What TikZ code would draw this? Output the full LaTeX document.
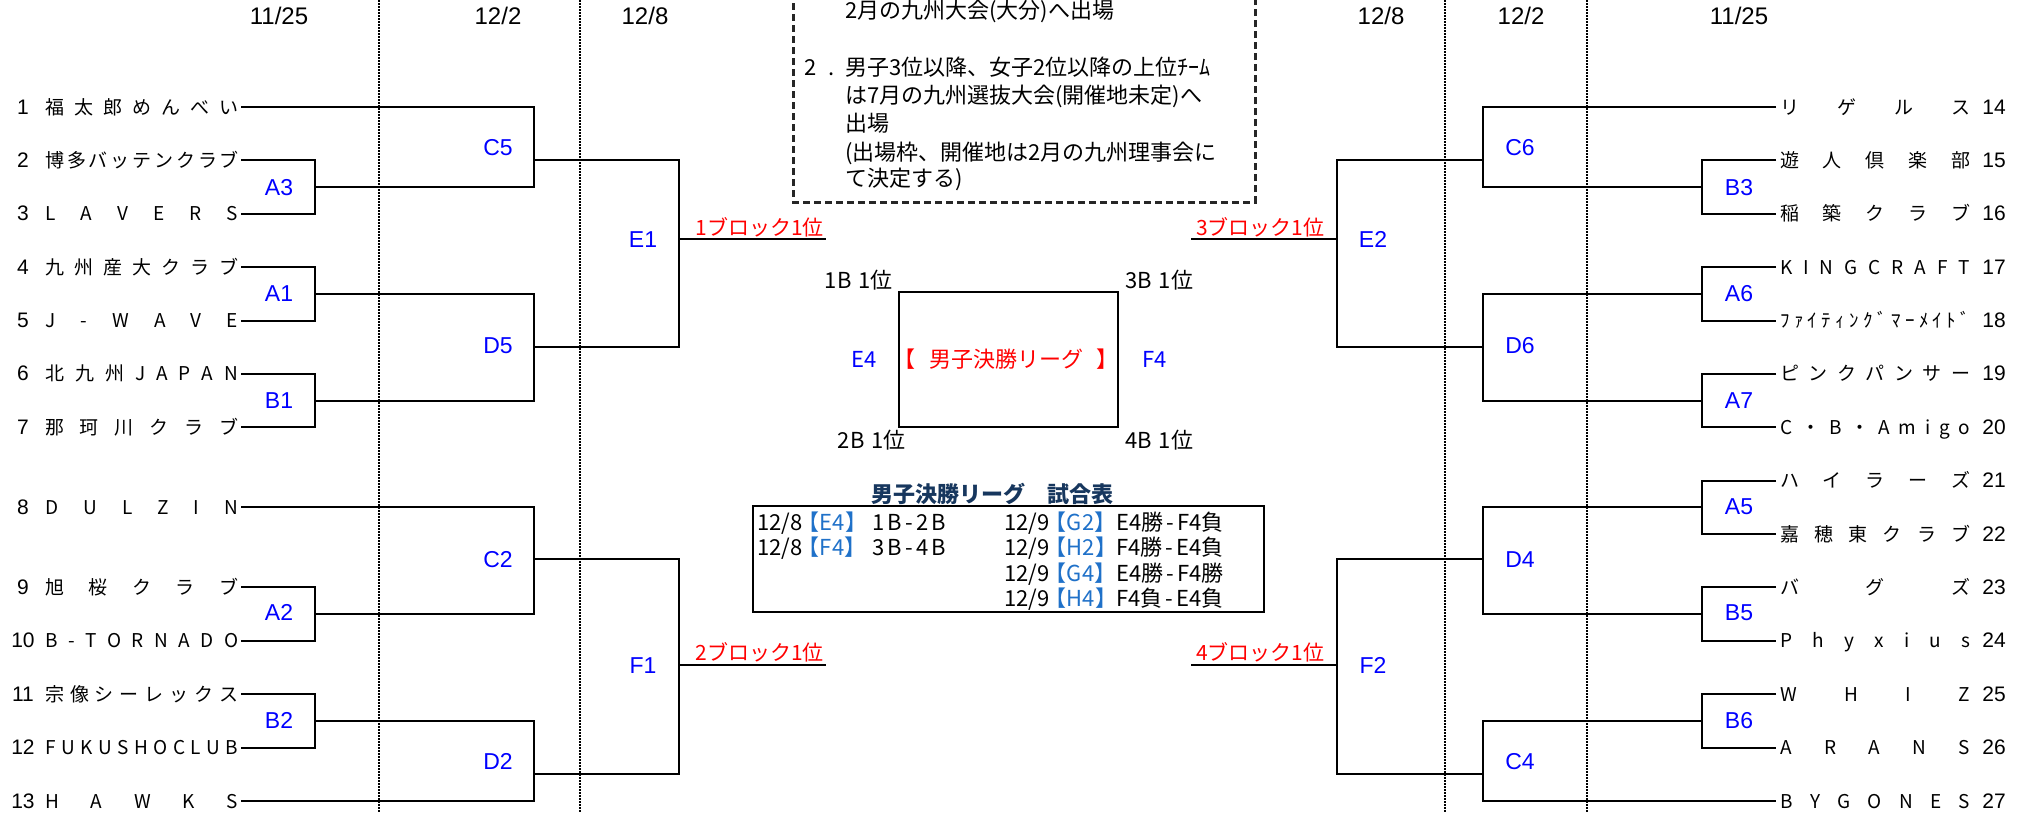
\documentclass[tikz,border=0pt]{standalone}
\usepackage{fontspec}
\setmainfont{Liberation Sans}
\newfontfamily\jp{Noto Sans CJK JP}
\definecolor{lblue}{RGB}{0,0,255}
\definecolor{lred}{RGB}{255,0,0}
\definecolor{tblue}{RGB}{31,113,201}
\definecolor{ttl}{RGB}{23,55,94}
\newcommand{\jfs}[1]{\jp\fontsize{#1}{#1}\selectfont}
\newcommand{\lfs}[1]{\fontsize{#1}{#1}\selectfont}
\newcommand{\dst}[1]{\makebox[193pt][s]{#1}}
\newcommand{\dsr}[1]{\makebox[190pt][s]{#1}}
\begin{document}
\begin{tikzpicture}[x=1pt,y=-1pt,
  br/.style={line width=2pt},
  dotline/.style={line width=1.5pt,dash pattern=on 1.5pt off 1.5pt},
  dashbox/.style={line width=3pt,draw=black!85,dash pattern=on 7pt off 4pt},
  boxline/.style={line width=2.4pt},
  tname/.style={inner sep=0pt,anchor=base west,font=\jfs{19}},
  tnumL/.style={inner sep=0pt,anchor=base,font=\lfs{21}},
  tnumR/.style={inner sep=0pt,anchor=base east,font=\lfs{21}},
  date/.style={inner sep=0pt,anchor=base,font=\lfs{24}},
  mlab/.style={inner sep=0pt,anchor=base,font=\lfs{23},text=lblue},
  rlab/.style={inner sep=0pt,font=\jfs{21},text=lred},
  ntext/.style={inner sep=0pt,anchor=base west,font=\jfs{22}},
  ctext/.style={inner sep=0pt,font=\jfs{22}},
  ttext/.style={inner sep=0pt,anchor=base west,font=\jfs{22}},
  tbr/.style={inner sep=0pt,anchor=base west,font=\jfs{22},text=tblue,xshift=-5pt}]
\useasboundingbox (0,0) rectangle (2029,812);
\fill[white] (0,0) rectangle (2029,812);

% dotted round separators
\coordinate (v1t) at (379,0); \coordinate (v1b) at (379,812);
\coordinate (v2t) at (580,0); \coordinate (v2b) at (580,812);
\coordinate (v3t) at (1445,0); \coordinate (v3b) at (1445,812);
\coordinate (v4t) at (1587,0); \coordinate (v4b) at (1587,812);
\draw[dotline] (v1t) -- (v1b);
\draw[dotline] (v2t) -- (v2b);
\draw[dotline] (v3t) -- (v3b);
\draw[dotline] (v4t) -- (v4b);

% dates
\node[date] (d1) at (279,24) {11/25};
\node[date] (d2) at (498,24) {12/2};
\node[date] (d3) at (645,24) {12/8};
\node[date] (d4) at (1381,24) {12/8};
\node[date] (d5) at (1521,24) {12/2};
\node[date] (d6) at (1739,24) {11/25};

% left teams
\node[tnumL] (n1) at (23,114) {1};   \node[tname] (m1) at (45,114) {\dst{福 太 郎 め ん べ い}};
\node[tnumL] (n2) at (23,167.4) {2}; \node[tname] (m2) at (45,167.4) {\dst{博 多 バ ッ テ ン ク ラ ブ}};
\node[tnumL] (n3) at (23,220.8) {3}; \node[tname] (m3) at (45,220.8) {\dst{L A V E R S}};
\node[tnumL] (n4) at (23,274.1) {4}; \node[tname] (m4) at (45,274.1) {\dst{九 州 産 大 ク ラ ブ}};
\node[tnumL] (n5) at (23,327.5) {5}; \node[tname] (m5) at (45,327.5) {\dst{J - W A V E}};
\node[tnumL] (n6) at (23,380.9) {6}; \node[tname] (m6) at (45,380.9) {\dst{北 九 州 J A P A N}};
\node[tnumL] (n7) at (23,434.3) {7}; \node[tname] (m7) at (45,434.3) {\dst{那 珂 川 ク ラ ブ}};
\node[tnumL] (n8) at (23,514.4) {8}; \node[tname] (m8) at (45,514.4) {\dst{D U L Z I N}};
\node[tnumL] (n9) at (23,594.4) {9}; \node[tname] (m9) at (45,594.4) {\dst{旭 桜 ク ラ ブ}};
\node[tnumL] (n10) at (23,647.8) {10}; \node[tname] (m10) at (45,647.8) {\dst{B - T O R N A D O}};
\node[tnumL] (n11) at (23,701.2) {11}; \node[tname] (m11) at (45,701.2) {\dst{宗 像 シ ー レ ッ ク ス}};
\node[tnumL] (n12) at (23,754.6) {12}; \node[tname] (m12) at (45,754.6) {\dst{F U K U S H O C L U B}};
\node[tnumL] (n13) at (23,808) {13}; \node[tname] (m13) at (45,808) {\dst{H A W K S}};

% right teams
\node[tnumR] (n14) at (2006,114) {14};   \node[tname] (m14) at (1780,114) {\dsr{リ ゲ ル ス}};
\node[tnumR] (n15) at (2006,167.4) {15}; \node[tname] (m15) at (1780,167.4) {\dsr{遊 人 倶 楽 部}};
\node[tnumR] (n16) at (2006,220.8) {16}; \node[tname] (m16) at (1780,220.8) {\dsr{稲 築 ク ラ ブ}};
\node[tnumR] (n17) at (2006,274.1) {17}; \node[tname] (m17) at (1780,274.1) {\dsr{K I N G C R A F T}};
\node[tnumR] (n18) at (2006,327.5) {18}; \node[tname] (m18) at (1780,327.5) {\dsr{ﾌ ｧ ｲ ﾃ ｨ ﾝ ｸ ﾞ ﾏ ｰ ﾒ ｲ ﾄ ﾞ}};
\node[tnumR] (n19) at (2006,380.9) {19}; \node[tname] (m19) at (1780,380.9) {\dsr{ピ ン ク パ ン サ ー}};
\node[tnumR] (n20) at (2006,434.3) {20}; \node[tname] (m20) at (1780,434.3) {\dsr{C ・ B ・ A m i g o}};
\node[tnumR] (n21) at (2006,487.7) {21}; \node[tname] (m21) at (1780,487.7) {\dsr{ハ イ ラ ー ズ}};
\node[tnumR] (n22) at (2006,541) {22};   \node[tname] (m22) at (1780,541) {\dsr{嘉 穂 東 ク ラ ブ}};
\node[tnumR] (n23) at (2006,594.4) {23}; \node[tname] (m23) at (1780,594.4) {\dsr{バ グ ズ}};
\node[tnumR] (n24) at (2006,647.8) {24}; \node[tname] (m24) at (1780,647.8) {\dsr{P h y x i u s}};
\node[tnumR] (n25) at (2006,701.2) {25}; \node[tname] (m25) at (1780,701.2) {\dsr{W H I Z}};
\node[tnumR] (n26) at (2006,754.6) {26}; \node[tname] (m26) at (1780,754.6) {\dsr{A R A N S}};
\node[tnumR] (n27) at (2006,808) {27};   \node[tname] (m27) at (1780,808) {\dsr{B Y G O N E S}};

% left line starts
\coordinate (L1) at (241,107);   \coordinate (L2) at (241,160.4);
\coordinate (L3) at (241,213.8); \coordinate (L4) at (241,267.1);
\coordinate (L5) at (241,320.5); \coordinate (L6) at (241,373.9);
\coordinate (L7) at (241,427.3); \coordinate (L8) at (241,507.4);
\coordinate (L9) at (241,587.4); \coordinate (L10) at (241,640.8);
\coordinate (L11) at (241,694.2);\coordinate (L12) at (241,747.6);
\coordinate (L13) at (241,801);
% right line ends
\coordinate (R14) at (1776,107);   \coordinate (R15) at (1776,160.4);
\coordinate (R16) at (1776,213.8); \coordinate (R17) at (1776,267.1);
\coordinate (R18) at (1776,320.5); \coordinate (R19) at (1776,373.9);
\coordinate (R20) at (1776,427.3); \coordinate (R21) at (1776,480.7);
\coordinate (R22) at (1776,534);   \coordinate (R23) at (1776,587.4);
\coordinate (R24) at (1776,640.8); \coordinate (R25) at (1776,694.2);
\coordinate (R26) at (1776,747.6); \coordinate (R27) at (1776,801);

% left match points
\coordinate (A3) at (315,187.1); \coordinate (A1) at (315,293.8);
\coordinate (B1) at (315,400.6); \coordinate (A2) at (315,614.1);
\coordinate (B2) at (315,720.9);
\coordinate (C5) at (534,160); \coordinate (D5) at (534,347);
\coordinate (C2) at (534,559); \coordinate (D2) at (534,774);
\coordinate (E1) at (679,239); \coordinate (F1) at (679,665);
\coordinate (e1) at (826,239); \coordinate (f1) at (826,665);
% right match points
\coordinate (B3) at (1702,187.1); \coordinate (A6) at (1702,293.8);
\coordinate (A7) at (1702,400.6); \coordinate (A5) at (1702,507.4);
\coordinate (B5) at (1702,614.1); \coordinate (B6) at (1702,720.9);
\coordinate (C6) at (1483,160); \coordinate (D6) at (1483,347);
\coordinate (D4) at (1483,559); \coordinate (C4) at (1483,774);
\coordinate (E2) at (1337,239); \coordinate (F2) at (1337,665);
\coordinate (e2) at (1191,239); \coordinate (f2) at (1191,665);

% left brackets
\draw[br] (L2) -| (A3) |- (L3);
\draw[br] (L4) -| (A1) |- (L5);
\draw[br] (L6) -| (B1) |- (L7);
\draw[br] (L9) -| (A2) |- (L10);
\draw[br] (L11) -| (B2) |- (L12);
\draw[br] (L1) -| (C5) |- (A3);
\draw[br] (A1) -| (D5) |- (B1);
\draw[br] (L8) -| (C2) |- (A2);
\draw[br] (B2) -| (D2) |- (L13);
\draw[br] (C5) -| (E1) |- (D5);
\draw[br] (C2) -| (F1) |- (D2);
\draw[br] (E1) -- (e1);
\draw[br] (F1) -- (f1);
% right brackets
\draw[br] (R15) -| (B3) |- (R16);
\draw[br] (R17) -| (A6) |- (R18);
\draw[br] (R19) -| (A7) |- (R20);
\draw[br] (R21) -| (A5) |- (R22);
\draw[br] (R23) -| (B5) |- (R24);
\draw[br] (R25) -| (B6) |- (R26);
\draw[br] (R14) -| (C6) |- (B3);
\draw[br] (A6) -| (D6) |- (A7);
\draw[br] (A5) -| (D4) |- (B5);
\draw[br] (B6) -| (C4) |- (R27);
\draw[br] (C6) -| (E2) |- (D6);
\draw[br] (D4) -| (F2) |- (C4);
\draw[br] (E2) -- (e2);
\draw[br] (F2) -- (f2);

% match labels
\node[mlab] (lA3) at (279,195) {A3};
\node[mlab] (lA1) at (279,301) {A1};
\node[mlab] (lB1) at (279,408) {B1};
\node[mlab] (lA2) at (279,620) {A2};
\node[mlab] (lB2) at (279,728) {B2};
\node[mlab] (lC5) at (498,155) {C5};
\node[mlab] (lD5) at (498,353) {D5};
\node[mlab] (lC2) at (498,567) {C2};
\node[mlab] (lD2) at (498,769.5) {D2};
\node[mlab] (lE1) at (643,247) {E1};
\node[mlab] (lF1) at (643,673) {F1};
\node[mlab] (lB3) at (1739,195) {B3};
\node[mlab] (lA6) at (1739,301) {A6};
\node[mlab] (lA7) at (1739,408) {A7};
\node[mlab] (lA5) at (1739,514.5) {A5};
\node[mlab] (lB5) at (1739,620.5) {B5};
\node[mlab] (lB6) at (1739,728) {B6};
\node[mlab] (lC6) at (1520,155) {C6};
\node[mlab] (lD6) at (1520,353) {D6};
\node[mlab] (lD4) at (1520,567) {D4};
\node[mlab] (lC4) at (1520,769.5) {C4};
\node[mlab] (lE2) at (1373,247) {E2};
\node[mlab] (lF2) at (1373,673) {F2};

% block winners
\node[rlab,anchor=base east] (w1) at (824,235) {1ブロック1位};
\node[rlab,anchor=base east] (w2) at (824,660) {2ブロック1位};
\node[rlab,anchor=base west] (w3) at (1196,235) {3ブロック1位};
\node[rlab,anchor=base west] (w4) at (1196,660) {4ブロック1位};

% notes box
\coordinate (nb1) at (793,-30); \coordinate (nb2) at (1255,202);
\draw[dashbox] (nb1) rectangle (nb2);
\node[ntext] (nt0) at (845,18) {2月の九州大会(大分)へ出場};
\node[ntext] (nk) at (804,75) {2};
\node[ntext] (nd) at (828,75) {.};
\node[ntext] (nt1) at (845,75) {男子3位以降、女子2位以降の上位ﾁｰﾑ};
\node[ntext] (nt2) at (845,103) {は7月の九州選抜大会(開催地未定)へ};
\node[ntext] (nt3) at (845,131) {出場};
\node[ntext] (nt4) at (845,160) {(出場枠、開催地は2月の九州理事会に};
\node[ntext] (nt5) at (845,186) {て決定する)};

% final league box
\coordinate (fb1) at (899,292); \coordinate (fb2) at (1118,427);
\draw[boxline] (fb1) rectangle (fb2);
\node[ctext,anchor=base east] (p1) at (893,288) {1B\hspace{7pt}1位};
\node[ctext,anchor=base west] (p3) at (1125,288) {3B\hspace{7pt}1位};
\node[ctext,anchor=base east] (p2) at (906,448) {2B\hspace{7pt}1位};
\node[ctext,anchor=base west] (p4) at (1125,448) {4B\hspace{7pt}1位};
\node[ctext,anchor=base,text=lblue] (pE4) at (864,367) {E4};
\node[ctext,anchor=base,text=lblue] (pF4) at (1155,367) {F4};
\node[ctext,anchor=base,text=lred] (ptitle) at (1006,367) {【\hspace{14pt}男子決勝リーグ\hspace{14pt}】};

% schedule table
\node[inner sep=0pt,anchor=base,font=\jfs{22}\bfseries,text=ttl] (stitle) at (992,502) {男子決勝リーグ　試合表};
\coordinate (sb1) at (753,506); \coordinate (sb2) at (1264,612);
\draw[boxline] (sb1) rectangle (sb2);
\node[ttext] (s1a) at (757,530) {12/8};
\node[tbr] (s1b) at (s1a.base east) {【E4】};
\node[ttext] (s1c) at (872,530) {\makebox[68pt][s]{1 B - 2 B}};
\node[ttext] (s2a) at (757,555) {12/8};
\node[tbr] (s2b) at (s2a.base east) {【F4】};
\node[ttext] (s2c) at (872,555) {\makebox[68pt][s]{3 B - 4 B}};
\node[ttext] (s3a) at (1004,530) {12/9};
\node[tbr] (s3b) at (s3a.base east) {【G2】};
\node[ttext] (s3c) at (1116,530) {\makebox[106pt][s]{E4勝 - F4負}};
\node[ttext] (s4a) at (1004,555) {12/9};
\node[tbr] (s4b) at (s4a.base east) {【H2】};
\node[ttext] (s4c) at (1116,555) {\makebox[106pt][s]{F4勝 - E4負}};
\node[ttext] (s5a) at (1004,581) {12/9};
\node[tbr] (s5b) at (s5a.base east) {【G4】};
\node[ttext] (s5c) at (1116,581) {\makebox[106pt][s]{E4勝 - F4勝}};
\node[ttext] (s6a) at (1004,606) {12/9};
\node[tbr] (s6b) at (s6a.base east) {【H4】};
\node[ttext] (s6c) at (1116,606) {\makebox[106pt][s]{F4負 - E4負}};
\end{tikzpicture}
\end{document}
